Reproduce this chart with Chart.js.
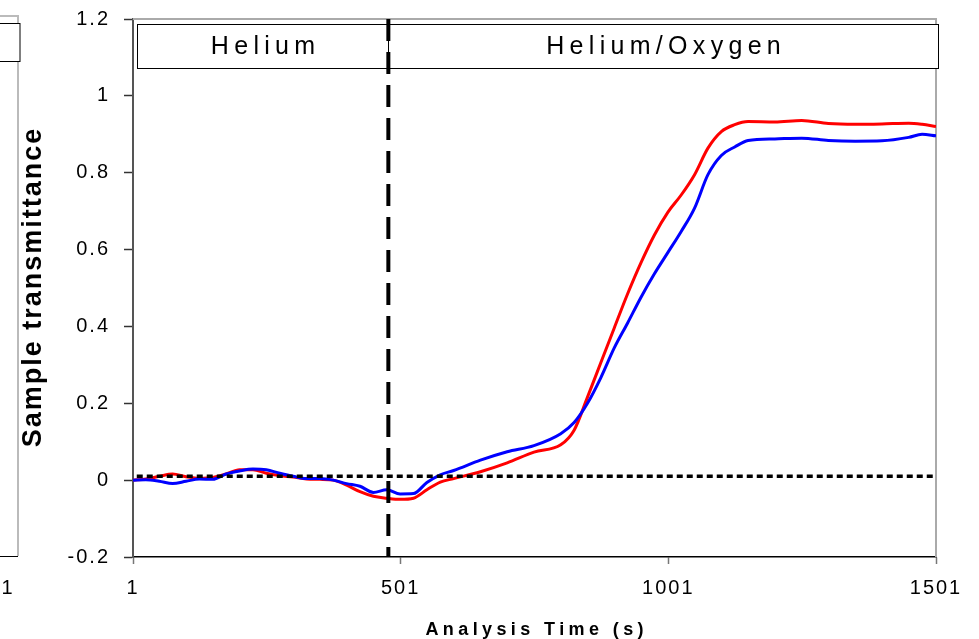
<!DOCTYPE html>
<html>
<head>
<meta charset="utf-8">
<script src="https://cdn.jsdelivr.net/npm/chart.js@4.4.1/dist/chart.umd.min.js"></script>
<style>
  html, body { margin: 0; padding: 0; background: #fff; }
  canvas { display: block; }
</style>
</head>
<body>
<canvas id="transChart" width="979" height="639"></canvas>
<script>
// Analysis time (s), shared by both traces
const timeS = [1, 25, 50, 75, 100, 125, 150, 175, 200, 225, 250, 275, 300, 325, 350, 375,
  400, 425, 450, 475, 500, 525, 550, 575, 600, 650, 700, 750, 800, 825, 850, 875, 900,
  925, 950, 975, 1000, 1025, 1050, 1075, 1100, 1125, 1150, 1200, 1250, 1300, 1350, 1400,
  1450, 1475, 1501];

// red trace
const redTrans = [0.000, 0.003, 0.010, 0.016, 0.009, 0.005, 0.007, 0.016, 0.027, 0.027,
  0.018, 0.012, 0.008, 0.003, 0.002, 0.000, -0.013, -0.030, -0.042, -0.047, -0.050,
  -0.047, -0.025, -0.005, 0.004, 0.022, 0.045, 0.073, 0.092, 0.130, 0.216, 0.306, 0.396,
  0.485, 0.566, 0.638, 0.697, 0.742, 0.795, 0.864, 0.907, 0.925, 0.933, 0.932, 0.936,
  0.928, 0.926, 0.927, 0.929, 0.926, 0.920];

// blue trace
const blueTrans = [0.000, 0.001, -0.003, -0.009, -0.003, 0.003, 0.002, 0.016, 0.024, 0.029,
  0.027, 0.018, 0.010, 0.004, 0.004, 0.000, -0.009, -0.016, -0.032, -0.025, -0.036,
  -0.035, -0.006, 0.014, 0.025, 0.052, 0.074, 0.090, 0.121, 0.150, 0.200, 0.267, 0.344,
  0.409, 0.476, 0.537, 0.592, 0.647, 0.708, 0.795, 0.845, 0.867, 0.884, 0.888, 0.890,
  0.884, 0.882, 0.883, 0.892, 0.900, 0.896];

const xTicks = [1, 501, 1001, 1501];
const yTicks = [-0.2, 0, 0.2, 0.4, 0.6, 0.8, 1, 1.2];

const switchTime = 478;        // gas change (dashed line)
const baselineLevel = 0.01;    // dotted reference line
const baselineRange = [8, 1501];

const phaseLabels = ['Helium', 'Helium/Oxygen'];
const phaseFrom = [8, 478];
const phaseTo = [478, 1504];
const phaseBand = [1.072, 1.186];

const xTitle = 'Analysis Time (s)';
const yTitle = 'Sample transmittance';

const FONT = "'Liberation Sans', Arial, sans-serif";
Chart.defaults.font.family = FONT;
Chart.defaults.color = '#000';

function spacedText(ctx, text, x, y, spacing) {
  ctx.letterSpacing = spacing + 'px';
  ctx.fillText(text, x + spacing / 2, y);
}

const decorations = {
  id: 'decorations',
  beforeDraw(chart) {
    const ctx = chart.ctx;
    ctx.letterSpacing = '2px'; // tick labels are a bit spaced out

    // bit of the neighbouring chart cut off on the left
    ctx.save();
    ctx.strokeStyle = '#bbb';
    ctx.lineWidth = 2;
    ctx.beginPath();
    ctx.moveTo(0, 16); ctx.lineTo(18, 16); ctx.lineTo(18, 556);
    ctx.stroke();
    ctx.strokeStyle = '#000';
    ctx.lineWidth = 1;
    ctx.beginPath();
    ctx.moveTo(0, 556.5); ctx.lineTo(18, 556.5);
    ctx.stroke();
    ctx.fillStyle = '#fff';
    ctx.fillRect(-1, 23.5, 21, 38);
    ctx.strokeRect(-1, 23.5, 21, 38);
    ctx.fillStyle = '#000';
    ctx.font = '20px ' + FONT;
    ctx.textAlign = 'center';
    ctx.textBaseline = 'middle';
    ctx.fillText('1', 8, 588);
    ctx.restore();
  },
  beforeDatasetsDraw(chart) {
    const {ctx, chartArea: a, scales: {x, y}} = chart;
    ctx.save();
    // light frame on top and right
    ctx.strokeStyle = '#aaa';
    ctx.lineWidth = 2;
    ctx.beginPath();
    ctx.moveTo(a.left, a.top); ctx.lineTo(a.right, a.top); ctx.lineTo(a.right, a.bottom);
    ctx.stroke();

    // phase boxes
    ctx.strokeStyle = '#000';
    ctx.lineWidth = 1;
    ctx.font = '25px ' + FONT;
    ctx.textAlign = 'center';
    ctx.textBaseline = 'middle';
    const top = Math.round(y.getPixelForValue(phaseBand[1])) + 0.5;
    const bot = Math.round(y.getPixelForValue(phaseBand[0])) + 0.5;
    phaseLabels.forEach((lbl, i) => {
      const l = Math.round(x.getPixelForValue(phaseFrom[i])) + 0.5;
      const r = Math.round(x.getPixelForValue(phaseTo[i])) + 0.5;
      ctx.fillStyle = '#fff';
      ctx.fillRect(l, top, r - l, bot - top);
      ctx.strokeRect(l, top, r - l, bot - top);
      ctx.fillStyle = '#000';
      spacedText(ctx, lbl, (l + r) / 2, (top + bot) / 2 + 1, 5.3);
    });
    ctx.restore();
  },
  afterDraw(chart) {
    const {ctx, chartArea: a} = chart;
    ctx.save();
    ctx.fillStyle = '#000';
    ctx.textAlign = 'center';
    ctx.textBaseline = 'middle';

    ctx.font = 'bold 18px ' + FONT;
    spacedText(ctx, xTitle, (a.left + a.right) / 2, 630, 4.4);

    ctx.translate(33.5, (a.top + a.bottom) / 2);
    ctx.rotate(-Math.PI / 2);
    ctx.font = 'bold 27px ' + FONT;
    spacedText(ctx, yTitle, 0, 0, 2);
    ctx.restore();
    ctx.letterSpacing = '0px';
  }
};

const ctx = document.getElementById('transChart').getContext('2d');

new Chart(ctx, {
  type: 'line',
  data: {
    datasets: [
      {
        label: 'gas switch',
        data: [{x: switchTime, y: yTicks[yTicks.length - 1]}, {x: switchTime, y: yTicks[0]}],
        borderColor: '#000',
        borderWidth: 4,
        borderDash: [22, 11],
        pointRadius: 0
      },
      {
        label: 'baseline',
        data: baselineRange.map(t => ({x: t, y: baselineLevel})),
        borderColor: '#000',
        borderWidth: 3.5,
        borderDash: [6, 4],
        pointRadius: 0
      },
      {
        label: 'blue',
        data: timeS.map((t, i) => ({x: t, y: blueTrans[i]})),
        borderColor: '#0000ff',
        borderWidth: 3,
        pointRadius: 0,
        cubicInterpolationMode: 'monotone'
      },
      {
        label: 'red',
        data: timeS.map((t, i) => ({x: t, y: redTrans[i]})),
        borderColor: '#ff0000',
        borderWidth: 3,
        pointRadius: 0,
        cubicInterpolationMode: 'monotone'
      }
    ]
  },
  options: {
    responsive: false,
    animation: false,
    layout: { padding: { top: 19, right: 43, left: 0, bottom: 0 } },
    plugins: {
      legend: { display: false },
      tooltip: { enabled: false }
    },
    scales: {
      x: {
        type: 'linear',
        min: xTicks[0],
        max: xTicks[xTicks.length - 1],
        afterBuildTicks: s => { s.ticks = xTicks.map(v => ({value: v})); },
        afterFit: s => { s.height = 82; s.paddingLeft = 0; s.paddingRight = 0; },
        grid: { drawOnChartArea: false, drawTicks: true, tickLength: 7, tickColor: '#777', tickWidth: 1.5 },
        border: { color: '#000', width: 1.5 },
        ticks: {
          color: '#000', font: { size: 20 }, padding: 12, maxRotation: 0, autoSkip: false,
          callback: v => String(v)
        }
      },
      y: {
        min: yTicks[0],
        max: yTicks[yTicks.length - 1],
        afterBuildTicks: s => { s.ticks = yTicks.map(v => ({value: v})); },
        afterFit: s => { s.width = 133; s.paddingTop = 0; s.paddingBottom = 0; },
        grid: { drawOnChartArea: false, drawTicks: true, tickLength: 9, tickColor: '#333', tickWidth: 1.5 },
        border: { color: '#555', width: 2 },
        ticks: {
          color: '#000', font: { size: 20 }, padding: 14,
          callback: v => String(+v.toFixed(1))
        }
      }
    }
  },
  plugins: [decorations]
});
</script>
</body>
</html>
